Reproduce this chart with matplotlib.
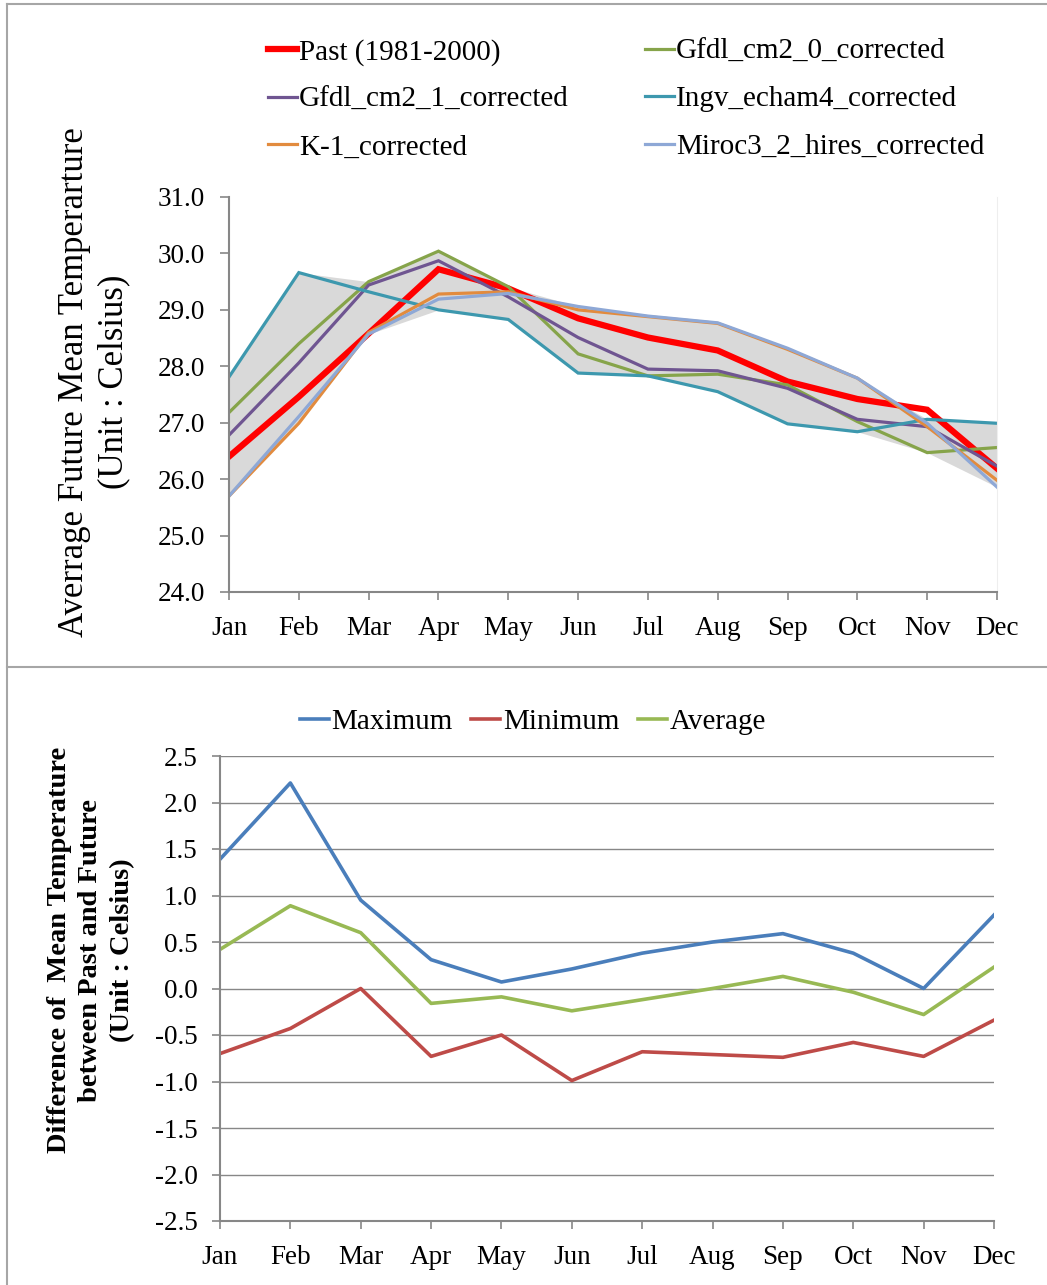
import numpy as np
import matplotlib
matplotlib.use("Agg")
import matplotlib.pyplot as plt
from matplotlib.lines import Line2D

plt.rcParams['font.family'] = ['Liberation Serif', 'DejaVu Serif']

months = ['Jan', 'Feb', 'Mar', 'Apr', 'May', 'Jun',
          'Jul', 'Aug', 'Sep', 'Oct', 'Nov', 'Dec']

# top panel: monthly mean temperature (deg C)
past = [26.40, 27.46, 28.58, 29.72, 29.38, 28.85,
        28.51, 28.28, 27.73, 27.42, 27.23, 26.19]
gfdl_cm2_0 = [27.18, 28.40, 29.50, 30.04, 29.41, 28.22,
              27.83, 27.86, 27.67, 27.02, 26.47, 26.56]
gfdl_cm2_1 = [26.78, 28.06, 29.44, 29.87, 29.23, 28.51,
              27.95, 27.92, 27.61, 27.06, 26.93, 26.23]
ingv_echam4 = [27.81, 29.66, 29.32, 29.00, 28.83, 27.88,
               27.83, 27.55, 26.98, 26.84, 27.06, 26.99]
k_1 = [25.70, 26.99, 28.60, 29.28, 29.32, 29.00,
       28.88, 28.76, 28.30, 27.79, 26.93, 25.98]
miroc3_2_hires = [25.70, 27.11, 28.57, 29.19, 29.29, 29.06,
                  28.89, 28.77, 28.32, 27.79, 26.99, 25.86]

# bottom panel: difference future - past (deg C)
diff_max = [1.39, 2.21, 0.95, 0.31, 0.07, 0.21,
            0.38, 0.50, 0.59, 0.38, 0.00, 0.79]
diff_min = [-0.70, -0.43, 0.00, -0.73, -0.50, -0.99,
            -0.68, -0.71, -0.74, -0.58, -0.73, -0.34]
diff_avg = [0.42, 0.89, 0.60, -0.16, -0.09, -0.24,
            -0.12, 0.00, 0.13, -0.04, -0.28, 0.23]

W, H = 1047, 1285
AXIS_GRAY = '#878787'

fig = plt.figure(figsize=(W / 100, H / 100), dpi=100)

# panel borders
border = dict(color='#A6A6A6', lw=1.5, transform=fig.transFigure)
fig.add_artist(Line2D([7 / W, 7 / W], [0, 1 - 4 / H], **border))
fig.add_artist(Line2D([7 / W, 1], [1 - 4 / H, 1 - 4 / H], **border))
fig.add_artist(Line2D([7 / W, 1], [1 - 667 / H, 1 - 667 / H], **border))

x = np.arange(len(months))

# ---- top chart ----
ax1 = fig.add_axes([229 / W, 1 - 592 / H, 768 / W, 395 / H])
models = [gfdl_cm2_0, gfdl_cm2_1, ingv_echam4, k_1, miroc3_2_hires]
lo = np.min(np.array(models), axis=0)
hi = np.max(np.array(models), axis=0)
ax1.fill_between(x, lo, hi, color='#D9D9D9', lw=0, zorder=1)

series = [
    ('Past (1981-2000)', past, '#FF0000', 4.5),
    ('Gfdl_cm2_0_corrected', gfdl_cm2_0, '#86A44A', 2.3),
    ('Gfdl_cm2_1_corrected', gfdl_cm2_1, '#6F5591', 2.3),
    ('Ingv_echam4_corrected', ingv_echam4, '#3D98AE', 2.3),
    ('K-1_corrected', k_1, '#E28B3E', 2.3),
    ('Miroc3_2_hires_corrected', miroc3_2_hires, '#8EA8D6', 2.3),
]
handles = {}
for name, vals, col, lw in series:
    handles[name], = ax1.plot(x, vals, color=col, lw=lw, label=name,
                              solid_joinstyle='miter', zorder=2)

ax1.set_xlim(0, 11)
ax1.set_ylim(24, 31)
ax1.set_yticks(np.arange(24, 31.01, 1.0))
ax1.yaxis.set_major_formatter(plt.FormatStrFormatter('%.1f'))
ax1.set_xticks(x)
ax1.set_xticklabels(months)
ax1.spines['top'].set_visible(False)
ax1.spines['right'].set_color('#EEEEEE')
for s in ['left', 'bottom']:
    ax1.spines[s].set_color(AXIS_GRAY)
    ax1.spines[s].set_linewidth(1.5)
ax1.tick_params(axis='y', direction='out', length=6.5, width=1.2,
                color=AXIS_GRAY, labelsize=19.5, pad=11)
ax1.tick_params(axis='x', direction='out', length=6, width=1.2,
                color=AXIS_GRAY, labelsize=19.5, pad=11)

fig.text(94 / W, 1 - 382 / H,
         'Averrage Future Mean Temperarture\n(Unit : Celsius)',
         rotation=90, ha='center', va='center', fontsize=25,
         linespacing=1.25)

leg_kw = dict(frameon=False, fontsize=21, handlelength=1.0,
              handletextpad=0.08, labelspacing=0.72, borderpad=0,
              loc='upper left')
col1 = ['Past (1981-2000)', 'Gfdl_cm2_1_corrected', 'K-1_corrected']
col2 = ['Gfdl_cm2_0_corrected', 'Ingv_echam4_corrected',
        'Miroc3_2_hires_corrected']
fig.legend([handles[n] for n in col1], col1,
           bbox_to_anchor=(253 / W, 1 - 24 / H), **leg_kw)
fig.legend([handles[n] for n in col2], col2,
           bbox_to_anchor=(630 / W, 1 - 24 / H), **leg_kw)

# ---- bottom chart ----
ax2 = fig.add_axes([220 / W, 1 - 1221 / H, 774 / W, 465 / H])
h_max, = ax2.plot(x, diff_max, color='#4A7EBB', lw=2.6, label='Maximum')
h_min, = ax2.plot(x, diff_min, color='#BE4B48', lw=2.6, label='Minimum')
h_avg, = ax2.plot(x, diff_avg, color='#98B954', lw=2.6, label='Average')

ax2.set_xlim(0, 11)
ax2.set_ylim(-2.5, 2.5)
ax2.set_yticks(np.arange(-2.5, 2.51, 0.5))
ax2.yaxis.set_major_formatter(plt.FormatStrFormatter('%.1f'))
ax2.set_xticks(x)
ax2.set_xticklabels(months)
ax2.grid(axis='y', color=AXIS_GRAY, lw=1.0)
ax2.set_axisbelow(True)
for s in ['top', 'right']:
    ax2.spines[s].set_visible(False)
for s in ['left', 'bottom']:
    ax2.spines[s].set_color(AXIS_GRAY)
    ax2.spines[s].set_linewidth(1.5)
ax2.tick_params(axis='y', direction='out', length=6, width=1.2,
                color=AXIS_GRAY, labelsize=19.5, pad=10)
ax2.tick_params(axis='x', direction='out', length=6, width=1.2,
                color=AXIS_GRAY, labelsize=19.5, pad=11)

fig.text(91 / W, 1 - 950 / H,
         'Difference of  Mean Temperature\nbetween Past and Future\n(Unit : Celsius)',
         rotation=90, ha='center', va='center', fontsize=20.5,
         fontweight='bold', linespacing=1.35)

fig.legend([h_max, h_min, h_avg], ['Maximum', 'Minimum', 'Average'],
           ncol=3, frameon=False, fontsize=21, handlelength=1.0,
           handletextpad=0.08, columnspacing=0.65, borderpad=0,
           loc='upper left', bbox_to_anchor=(285 / W, 1 - 694 / H))

fig.savefig('out.png', dpi=100)
